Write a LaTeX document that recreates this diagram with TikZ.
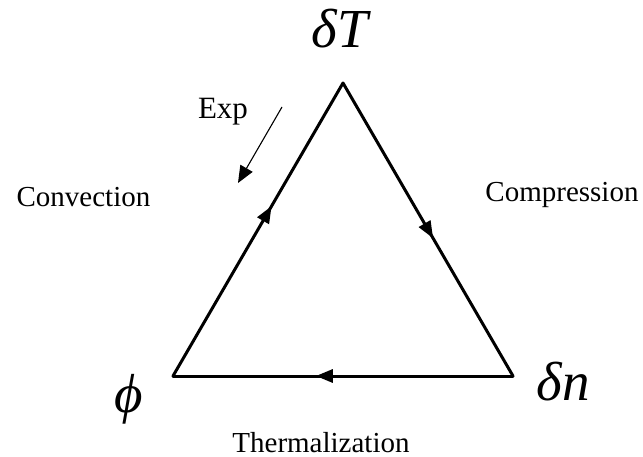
\documentclass[tikz,border=0pt]{standalone}
\usepackage{fontspec}
\setmainfont{Liberation Serif}
\usetikzlibrary{arrows.meta,decorations.markings}
\begin{document}
\begin{tikzpicture}[x=1pt,y=-1pt,
  lbl/.style={inner sep=0pt,anchor=base,font=\fontsize{29}{34}\selectfont},
  var/.style={inner sep=0pt,anchor=base,font=\fontsize{55}{62}\selectfont\itshape},
  edge/.style={line width=3pt,line cap=round,line join=miter,
    postaction={decorate},decoration={markings,
      mark=at position #1 with {\arrow{Triangle[length=17pt,width=13pt]}}}},
  thin/.style={line width=1.1pt,-{Triangle[length=17pt,width=14pt]}}]
\useasboundingbox (0,0) rectangle (643,457);
\coordinate (T) at (343,83);
\coordinate (P) at (173,376);
\coordinate (N) at (513,376);
\draw[edge=0.58] (P) -- (T);
\draw[edge=0.53] (T) -- (N);
\draw[edge=0.58] (N) -- (P);
\node[var] (dT) at (340,48) {δT};
\node[var] (dn) at (563,400) {δn};
\node[var] (ph) at (129,412) {ϕ};
\node[lbl,font=\fontsize{31}{36}\selectfont] (exp) at (223,119) {Exp};
\node[lbl] (conv) at (83.5,207) {Convection};
\node[lbl] (comp) at (562,202) {Compression};
\node[lbl] (therm) at (321,452) {Thermalization};
\coordinate (e1) at (282,107);
\coordinate (e2) at (238,183);
\draw[thin] (e1) -- (e2);
\end{tikzpicture}
\end{document}
